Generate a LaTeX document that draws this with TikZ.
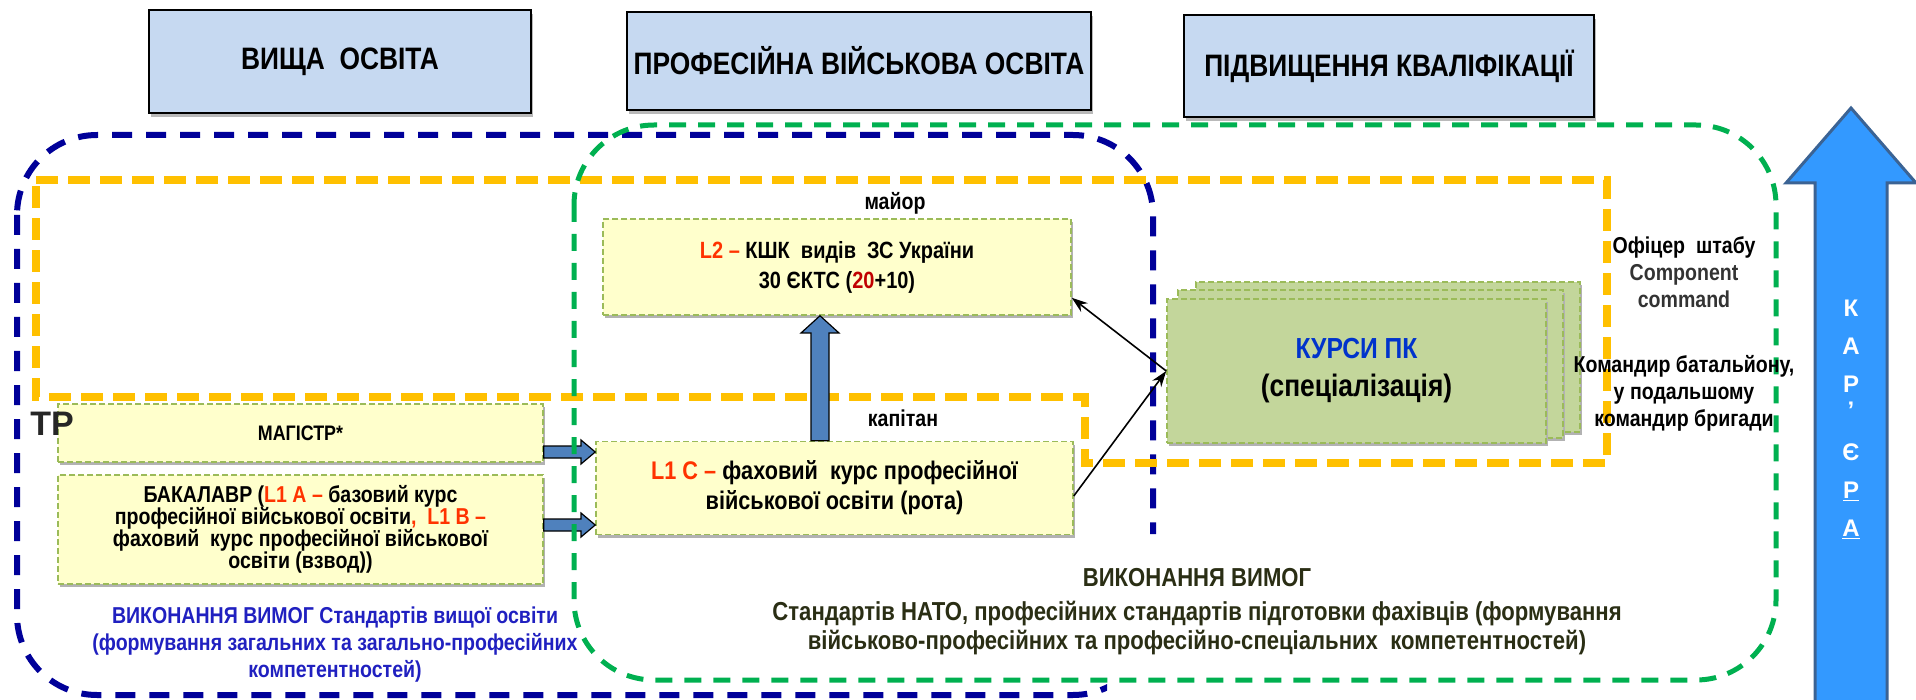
\documentclass[tikz,border=0pt]{standalone}
\usepackage{fontspec}
\setmainfont{Liberation Sans}
\newfontfamily\nar{Liberation Sans}[FakeStretch=0.85]
\usetikzlibrary{shadows,arrows.meta,calc}
\definecolor{hdrfill}{HTML}{C6D9F1}
\definecolor{yfill}{HTML}{FFFFCC}
\definecolor{gfill}{HTML}{C3D69B}
\definecolor{bord}{HTML}{9BBB59}
\definecolor{navyc}{HTML}{000099}
\definecolor{grnc}{HTML}{00B050}
\definecolor{orgc}{HTML}{FFC000}
\definecolor{redt}{HTML}{FF3300}
\definecolor{dred}{HTML}{C00000}
\definecolor{kblue}{HTML}{0033CC}
\definecolor{bltext}{HTML}{2020C0}
\definecolor{olv}{HTML}{2A2E14}
\definecolor{grayt}{HTML}{333333}
\definecolor{darkt}{HTML}{262626}
\definecolor{arrblue}{HTML}{4F81BD}
\definecolor{bigfill}{HTML}{3399FF}
\definecolor{bigdraw}{HTML}{3B6394}
\tikzset{
  hdr/.style={draw=black, line width=1.5pt, fill=hdrfill,
    general shadow={fill=gray!55, shadow xshift=2pt, shadow yshift=-4pt},
    font=\nar\bfseries\fontsize{31}{36}\selectfont, inner sep=0pt},
  ybox/.style={draw=bord, dash pattern=on 6pt off 3pt, line width=1.5pt, fill=yfill,
    general shadow={fill=gray!60, shadow xshift=2pt, shadow yshift=-3pt},
    inner sep=0pt, align=center, font=\nar\bfseries\fontsize{23}{28}\selectfont},
  gbox/.style={ybox, fill=gfill},
  lbl/.style={font=\nar\bfseries\fontsize{23}{27}\selectfont, align=center, inner sep=0pt},
  bluedash/.style={draw=navyc, line width=6pt, dash pattern=on 20pt off 14pt},
  grndash/.style={draw=grnc, line width=5pt, dash pattern=on 17pt off 12pt},
  orgdash/.style={draw=orgc, line width=8pt, dash pattern=on 22pt off 10pt, line join=miter},
  barrow/.style={fill=arrblue, draw=black, line width=1.2pt},
  link/.style={line width=1.6pt, -{Stealth[length=16pt,width=11pt]}},
}
\begin{document}
\begin{tikzpicture}[x=1pt,y=-1pt]
\useasboundingbox (0,0) rectangle (1916,700);
% blue dashed frame (partly hidden at lower right)
\begin{scope}[even odd rule]
  \clip (0,0) rectangle (1916,700) (1107,534) rectangle (1200,700);
  \draw[bluedash, rounded corners=80pt] (17,135) rectangle (1153,695);
\end{scope}
% orange dashed frame
\draw[orgdash] (36,180) -- (1607,180) -- (1607,463) -- (1085,463) -- (1085,397) -- (36,397) -- cycle;

% boxes
\node[hdr, minimum width=382pt, minimum height=103pt] (h1) at (340,61.5) {ВИЩА\ \ ОСВІТА};
\node[hdr, minimum width=464pt, minimum height=98pt] (h2) at (859,61) {ПРОФЕСІЙНА ВІЙСЬКОВА ОСВІТА};
\node[hdr, minimum width=410pt, minimum height=102pt] (h3) at (1389,66) {ПІДВИЩЕННЯ КВАЛІФІКАЦІЇ};

\node[ybox, minimum width=468pt, minimum height=96pt, font=\nar\bfseries\fontsize{23.5}{30}\selectfont] (l2) at (837,267)
  {{\color{redt}L2 –} КШК\ \ видів\ \ ЗС України\\30 ЄКТС ({\color{dred}20}+10)};
\node[ybox, minimum width=485pt, minimum height=58pt, font=\nar\bfseries\fontsize{21}{26}\selectfont] (mag) at (300.5,433) {МАГІСТР*};
\node[ybox, minimum width=485pt, minimum height=109pt, font=\nar\bfseries\fontsize{23}{22}\selectfont] (bak) at (300.5,529.5)
  {БАКАЛАВР ({\color{redt}L1 A –} базовий курс\\професійної військової освіти{\color{redt},\ \ L1 B –}\\фаховий\ \ курс професійної військової\\освіти (взвод))};
\node[ybox, minimum width=477pt, minimum height=93pt, font=\nar\bfseries\fontsize{25.5}{30}\selectfont] (l1c) at (834.5,488)
  {{\color{redt}L1 C –} фаховий\ \ курс професійної\\військової освіти (рота)};

% block arrows
\draw[barrow] (mag.east |- 0,446) -- (581,446) -- (581,440) -- (l1c.west |- 0,452) -- (581,464) -- (581,458) -- (mag.east |- 0,458) -- cycle;
\draw[barrow] (bak.east |- 0,519) -- (581,519) -- (581,513) -- (l1c.west |- 0,525) -- (581,537) -- (581,531) -- (bak.east |- 0,531) -- cycle;
\draw[barrow] (811,0 |- l1c.north) -- (811,333) -- (801,333) -- (820,0 |- l2.south) -- (839,333) -- (829,333) -- (829,0 |- l1c.north) -- cycle;

% green dashed frame
\draw[grndash, rounded corners=80pt] (574,125) rectangle (1776,680);

% courses stack
\node[gbox, minimum width=384pt, minimum height=150pt] (kb) at (1388,357) {};
\node[gbox, minimum width=385pt, minimum height=148pt] (km) at (1370.5,364) {};
\node[gbox, minimum width=379pt, minimum height=144pt, font=\nar\bfseries\fontsize{29}{38}\selectfont] (kf) at (1356.5,371)
  {{\color{kblue}КУРСИ ПК}\\{\fontsize{31}{38}\selectfont(спеціалізація)}};

% connectors
\draw[link] ([yshift=-8pt]l1c.east) -- (kf.west);
\draw[link] (kf.west) -- ([yshift=18pt]l2.south east);

% labels
\node[lbl] (major) at (895,203) {майор};
\node[lbl] (kapitan) at (903,418) {капітан};
\node[font=\bfseries\fontsize{34}{40}\selectfont, text=darkt, inner sep=0pt] (tr) at (52,424) {ТР};
\node[lbl] (officer) at (1684,272) {Офіцер\ \ штабу\\{\color{grayt}Component}\\{\color{grayt}command}};
\node[lbl] (kombat) at (1684,393) {Командир батальйону,\\у подальшому\\командир бригади};
\node[lbl, text=bltext] (vyshcha) at (335,645)
  {ВИКОНАННЯ ВИМОГ Стандартів вищої освіти\\(формування загальних та загально-професійних\\компетентностей)};
\node[lbl, text=olv, font=\nar\bfseries\fontsize{26}{29}\selectfont] (nato) at (1197,612)
  {ВИКОНАННЯ ВИМОГ\\[5pt]Стандартів НАТО, професійних стандартів підготовки фахівців (формування\\військово-професійних та професійно-спеціальних\ \ компетентностей)};

% career arrow
\draw[fill=bigfill, draw=bigdraw, line width=3pt, line join=miter]
  (1815,704) -- (1815,183) -- (1786,183) -- (1851,108) -- (1916,183) -- (1887,183) -- (1887,704) -- cycle;
\node[anchor=north, align=center, text=white, inner sep=0pt, font=\bfseries\fontsize{24}{38}\selectfont] (kar) at (1851,300)
  {К\\А\\Р\\[-12pt]’\\[4pt]Є\\\underline{Р}\\\underline{А}};
\end{tikzpicture}
\end{document}
